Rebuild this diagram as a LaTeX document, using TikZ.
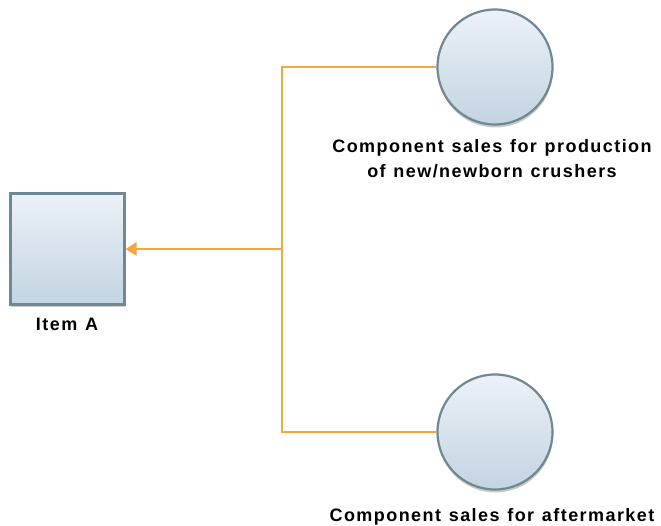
\documentclass[tikz,border=0pt]{standalone}
\usepackage{fontspec}
\setmainfont{Liberation Sans}
\usetikzlibrary{arrows.meta,shadows,calc}
\definecolor{shapetop}{HTML}{ECF1F7}
\definecolor{shapebot}{HTML}{C3D4E1}
\definecolor{shapeedge}{HTML}{6F8894}
\definecolor{linkorange}{HTML}{F7A540}
\newfontfamily\capfont[LetterSpace=8,WordSpace=1.2]{Liberation Sans}
\tikzset{
  x=1pt, y=-1pt,
  shapebase/.style={draw=shapeedge, line width=2.2pt, top color=shapetop, bottom color=shapebot,
    drop shadow={shadow xshift=0.5pt, shadow yshift=-3pt, opacity=0.35, fill=black!60}},
  itembox/.style={shapebase, rectangle, minimum width=114pt, minimum height=111pt, inner sep=0pt},
  salescircle/.style={shapebase, circle, minimum size=115pt, inner sep=0pt},
  caption/.style={font=\capfont\bfseries\fontsize{18}{24.5}\selectfont, align=center, inner sep=0pt},
  link/.style={draw=linkorange, line width=2.8pt},
}
\begin{document}
\begin{tikzpicture}
  \useasboundingbox (0,0) rectangle (661,526);
  \node[itembox] (item) at (67.5,249) {};
  \node[caption, anchor=base] (itemlbl) at (67,331) {Item A};
  \node[salescircle] (prod) at (495,67) {};
  \node[salescircle] (after) at (495,432) {};
  % multi-line caption: the base anchor sits on its last line
  \node[caption, anchor=base] (prodlbl) at (492,177.5) {Component sales for production\\of new/newborn crushers};
  \node[caption, anchor=base] (afterlbl) at (492,521) {Component sales for aftermarket};
  \coordinate (hub) at (282,249);
  \draw[link] (prod.west) -| (hub);
  \draw[link] (after.west) -| (hub);
  \draw[link, -{Triangle[length=11pt,width=13pt]}] (hub) -- (item.east);
\end{tikzpicture}
\end{document}
